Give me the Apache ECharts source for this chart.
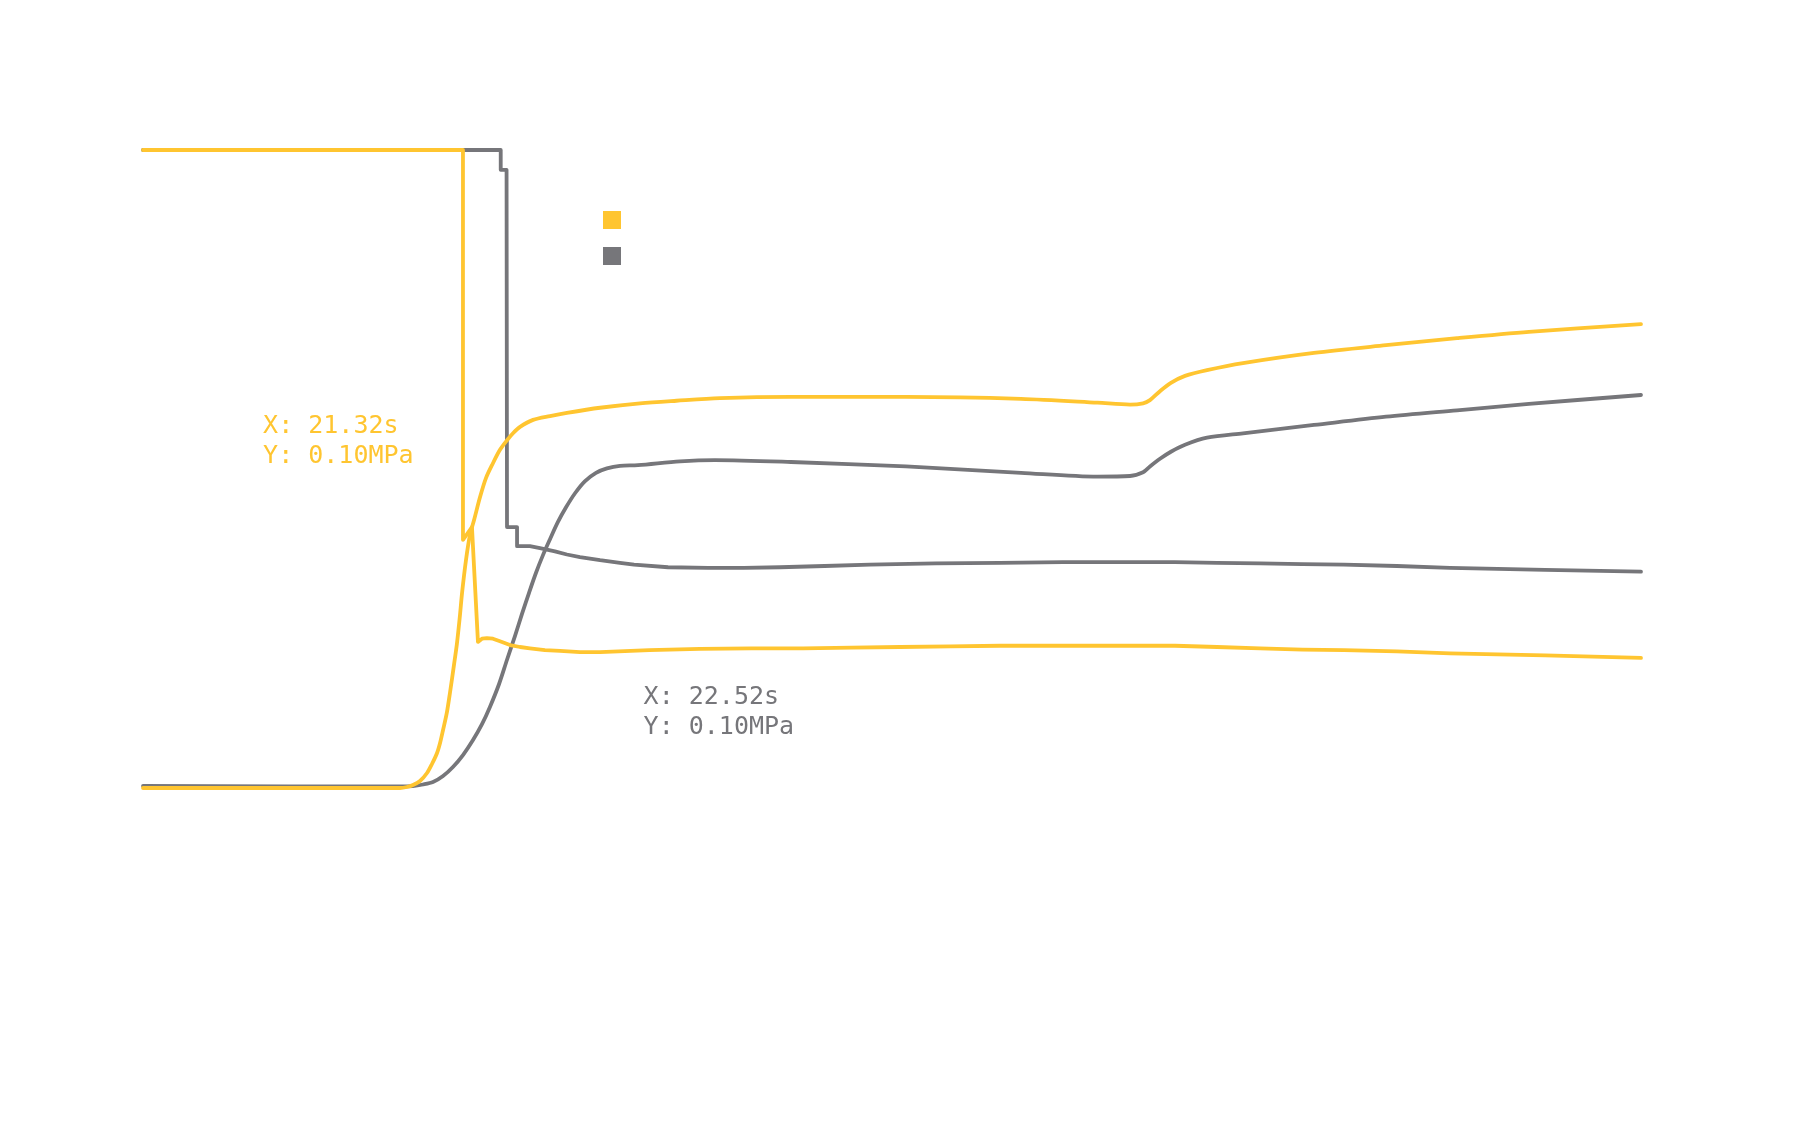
<!DOCTYPE html>
<html>
<head>
<meta charset="utf-8">
<script src="https://cdn.jsdelivr.net/npm/echarts@6/dist/echarts.min.js"></script>
<style>
html,body{margin:0;padding:0;background:#fff;}
#chart{width:1805px;height:1138px;}
</style>
</head>
<body>
<div id="chart"></div>
<script>
// Series names (legend text is white in the reference, so it does not show)
const seriesNames = ['Pressure 1', 'Pressure 2'];
const seriesColors = ['#ffc530', '#76767a'];

// Yellow series: closing trace (time s, pressure MPa)
const yellowClosing = [
  [0, 1.0], [21.36, 1.0], [21.36, 0.389], [21.96, 0.409], [22.36, 0.229],
  [22.63, 0.234], [22.96, 0.235], [23.36, 0.234], [23.83, 0.230], [24.50, 0.224],
  [25.17, 0.221], [25.83, 0.219], [26.83, 0.216], [27.84, 0.215], [29.17, 0.213],
  [30.51, 0.213], [33.8, 0.216], [37.18, 0.218], [40.6, 0.219], [44.06, 0.219],
  [47.3, 0.220], [50.53, 0.221], [53.9, 0.222], [57.21, 0.223], [61.4, 0.223],
  [65.69, 0.223], [68.89, 0.223], [71.7, 0.221], [74.57, 0.219], [77.4, 0.217],
  [80.17, 0.216], [83.7, 0.214], [87.25, 0.211], [93.6, 0.208], [100, 0.204]
];

// Yellow series: rising trace
const yellowRising = [
  [0, 0.0], [17.16, 0.0], [17.62, 0.0016], [18.02, 0.0047], [18.49, 0.011],
  [18.96, 0.0235], [19.29, 0.0376], [19.63, 0.0549], [19.83, 0.0705], [20.03, 0.0909],
  [20.29, 0.119], [20.49, 0.149], [20.76, 0.193], [20.96, 0.227], [21.16, 0.271],
  [21.30, 0.306], [21.56, 0.357], [21.83, 0.397], [22.10, 0.420], [22.50, 0.456],
  [22.90, 0.486], [23.36, 0.509], [23.83, 0.530], [24.30, 0.545], [24.70, 0.556],
  [25.17, 0.566], [26.04, 0.577], [27.17, 0.583], [28.30, 0.588], [30.51, 0.596],
  [33.18, 0.603], [35.61, 0.607], [38.52, 0.611], [43.26, 0.613], [50.93, 0.613],
  [58.61, 0.610], [63.72, 0.604], [65.89, 0.601], [66.76, 0.603], [67.22, 0.608],
  [67.89, 0.622], [68.62, 0.635], [69.56, 0.646], [71.03, 0.655], [73.43, 0.666],
  [78.17, 0.682], [82.98, 0.694], [87.72, 0.705], [92.52, 0.715], [100, 0.727]
];

// Gray series: closing trace
const grayClosing = [
  [0, 1.0], [23.88, 1.0], [23.88, 0.969], [24.27, 0.969], [24.30, 0.409],
  [24.97, 0.409], [24.97, 0.379], [25.37, 0.379], [25.83, 0.379], [26.50, 0.376],
  [27.50, 0.371], [28.3, 0.366], [29.17, 0.362], [30.51, 0.357], [31.84, 0.353],
  [32.78, 0.350], [35.05, 0.346], [37.72, 0.345], [40.1, 0.345], [42.52, 0.346],
  [45.5, 0.348], [48.53, 0.350], [52.9, 0.352], [57.21, 0.353], [61.4, 0.354],
  [65.69, 0.354], [68.89, 0.354], [71.7, 0.353], [74.57, 0.352], [77.4, 0.351],
  [80.17, 0.350], [83.7, 0.348], [87.25, 0.345], [93.6, 0.342], [100, 0.339]
];

// Gray series: rising trace
const grayRising = [
  [0, 0.0031], [17.16, 0.0024], [18.02, 0.0031], [18.69, 0.0055], [19.36, 0.0094],
  [20.03, 0.0188], [20.69, 0.0329], [21.36, 0.0517], [22.03, 0.0752], [22.63, 0.100],
  [23.16, 0.127], [23.77, 0.163], [24.30, 0.201], [24.83, 0.238], [25.30, 0.273],
  [25.77, 0.306], [26.23, 0.337], [26.70, 0.365], [27.17, 0.390], [27.70, 0.417],
  [28.24, 0.440], [28.84, 0.462], [29.51, 0.481], [30.24, 0.494], [30.97, 0.501],
  [31.84, 0.505], [33.04, 0.506], [35.85, 0.512], [38.18, 0.514], [43.26, 0.511],
  [50.93, 0.504], [58.61, 0.494], [63.72, 0.488], [65.89, 0.489], [66.76, 0.495],
  [67.22, 0.504], [67.89, 0.516], [68.62, 0.527], [69.56, 0.538], [71.03, 0.549],
  [73.43, 0.556], [78.17, 0.569], [82.98, 0.582], [87.72, 0.592], [92.52, 0.602],
  [100, 0.616]
];

// Annotation texts and their anchor points (data coordinates)
const yellowNote = { text: 'X: 21.32s\nY: 0.10MPa', at: [8.05, 0.589] };
const grayNote = { text: 'X: 22.52s\nY: 0.10MPa', at: [33.45, 0.1646] };

function noteMark(note, color) {
  return {
    silent: true,
    symbol: 'rect',
    symbolSize: 1,
    itemStyle: { color: 'rgba(0,0,0,0)' },
    label: {
      show: true,
      position: [0, 0],
      align: 'left',
      verticalAlign: 'top',
      formatter: note.text,
      color: color,
      fontFamily: 'DejaVu Sans Mono, monospace',
      fontSize: 25,
      lineHeight: 30
    },
    data: [{ coord: note.at }]
  };
}

function lineSeries(name, data, color, smooth, mark) {
  const s = {
    name: name,
    type: 'line',
    data: data,
    showSymbol: false,
    symbol: 'none',
    smooth: smooth,
    clip: false,
    lineStyle: { color: color, width: 3.8, join: 'round', cap: 'round' },
    itemStyle: { color: color },
    emphasis: { disabled: true }
  };
  if (mark) s.markPoint = mark;
  return s;
}

const chart = echarts.init(document.getElementById('chart'), null, { renderer: 'canvas' });
chart.setOption({
  animation: false,
  backgroundColor: '#ffffff',
  legend: {
    data: seriesNames,
    orient: 'vertical',
    left: 598,
    top: 206,
    icon: 'rect',
    itemWidth: 18,
    itemHeight: 18,
    itemGap: 18,
    textStyle: { color: '#ffffff', fontSize: 16 }
  },
  grid: { left: 143, right: 164, top: 86.2, bottom: 31 },
  xAxis: { type: 'value', min: 0, max: 100, show: false },
  yAxis: { type: 'value', min: -0.5, max: 1.1, show: false },
  series: [
    lineSeries(seriesNames[1], grayClosing, seriesColors[1], false, noteMark(grayNote, seriesColors[1])),
    lineSeries(seriesNames[1], grayRising, seriesColors[1], 0.3),
    lineSeries(seriesNames[0], yellowClosing, seriesColors[0], false, noteMark(yellowNote, seriesColors[0])),
    lineSeries(seriesNames[0], yellowRising, seriesColors[0], 0.3)
  ]
});
</script>
</body>
</html>
